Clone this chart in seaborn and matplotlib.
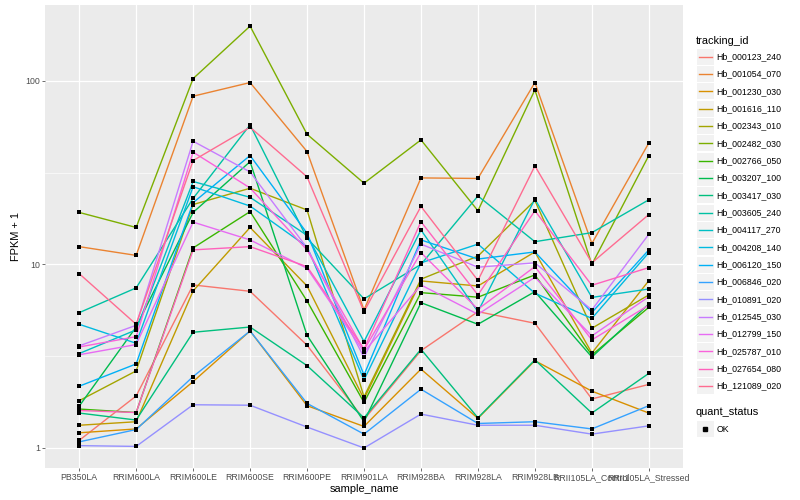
import pandas as pd
import seaborn as sns
import matplotlib.pyplot as plt
from matplotlib.lines import Line2D
from matplotlib.patches import Rectangle
from matplotlib.ticker import FixedLocator, NullFormatter

samples = ["PB350LA", "RRIM600LA", "RRIM600LE", "RRIM600SE", "RRIM600PE", "RRIM901LA",
           "RRIM928BA", "RRIM928LA", "RRIM928LB", "RRII105LA_Control", "RRII105LA_Stressed"]

tracking_ids = ["Hb_000123_240", "Hb_001054_070", "Hb_001230_030", "Hb_001616_110",
                "Hb_002343_010", "Hb_002482_030", "Hb_002766_050", "Hb_003207_100",
                "Hb_003417_030", "Hb_003605_240", "Hb_004117_270", "Hb_004208_140",
                "Hb_006120_150", "Hb_006846_020", "Hb_010891_020", "Hb_012545_030",
                "Hb_012799_150", "Hb_025787_010", "Hb_027654_080", "Hb_121089_020"]

# ggplot default hue palette for 20 levels
colors = ["#F8766D", "#EA8331", "#D89000", "#C09B00", "#A3A500", "#7CAE00", "#39B600",
          "#00BB4E", "#00BF7D", "#00C1A3", "#00BFC4", "#00BAE0", "#00B0F6", "#35A2FF",
          "#9590FF", "#C77CFF", "#E76BF3", "#FA62DB", "#FF62BC", "#FF6C91"]

# FPKM + 1, one value per sample
hb_000123_240 = [1.10, 1.92, 7.73, 7.14, 3.63, 1.43, 3.39, 5.53, 4.78, 1.85, 2.22]
hb_001054_070 = [12.5, 11.2, 82.5, 97.9, 41.2, 5.65, 29.6, 29.4, 97.9, 13.0, 45.9]
hb_001230_030 = [1.21, 1.27, 2.30, 4.34, 1.70, 1.31, 2.69, 1.45, 2.99, 2.04, 1.55]
hb_001616_110 = [1.33, 1.39, 7.17, 15.9, 7.63, 1.85, 8.13, 7.63, 11.7, 3.29, 8.16]
hb_002343_010 = [1.81, 2.63, 21.2, 26.0, 19.8, 1.90, 8.31, 11.1, 22.3, 4.49, 6.82]
hb_002482_030 = [19.2, 15.9, 102.9, 198.7, 51.2, 27.7, 47.7, 19.6, 89.3, 10.0, 39.2]
hb_002766_050 = [1.63, 1.56, 12.3, 19.4, 6.32, 1.77, 7.02, 6.63, 8.77, 3.21, 5.84]
hb_003207_100 = [1.69, 4.56, 19.2, 36.3, 4.11, 1.39, 6.19, 4.72, 7.11, 3.13, 6.09]
hb_003417_030 = [1.55, 1.42, 4.27, 4.56, 2.81, 1.46, 3.45, 1.46, 3.02, 1.55, 2.55]
hb_003605_240 = [5.46, 7.45, 22.9, 57.6, 13.9, 6.49, 10.0, 23.6, 13.3, 14.9, 22.5]
hb_004117_270 = [3.27, 4.40, 28.3, 23.2, 14.4, 3.80, 15.4, 5.53, 22.7, 6.61, 7.35]
hb_004208_140 = [4.72, 3.72, 26.5, 20.8, 12.5, 2.35, 10.2, 12.9, 6.97, 5.08, 11.6]
hb_006120_150 = [2.17, 2.87, 21.7, 39.2, 14.8, 2.50, 13.6, 10.7, 11.7, 5.47, 12.0]
hb_006846_020 = [1.08, 1.26, 2.45, 4.34, 1.75, 1.19, 2.09, 1.36, 1.39, 1.27, 1.70]
hb_010891_020 = [1.03, 1.02, 1.72, 1.71, 1.30, 1.00, 1.53, 1.33, 1.33, 1.19, 1.32]
hb_012545_030 = [3.60, 4.66, 46.9, 31.9, 12.3, 3.12, 12.9, 9.66, 10.2, 5.65, 14.6]
hb_012799_150 = [3.22, 3.66, 17.0, 13.6, 9.53, 3.34, 7.73, 5.35, 8.51, 4.08, 6.67]
hb_025787_010 = [3.55, 4.04, 40.9, 26.1, 12.0, 3.42, 11.6, 5.70, 9.73, 3.88, 6.00]
hb_027654_080 = [1.60, 1.56, 12.0, 12.5, 9.73, 3.46, 17.1, 6.82, 19.6, 7.70, 9.61]
hb_121089_020 = [8.91, 4.72, 36.8, 55.9, 30.0, 5.53, 20.7, 8.18, 34.4, 10.2, 18.7]

series = [hb_000123_240, hb_001054_070, hb_001230_030, hb_001616_110, hb_002343_010,
          hb_002482_030, hb_002766_050, hb_003207_100, hb_003417_030, hb_003605_240,
          hb_004117_270, hb_004208_140, hb_006120_150, hb_006846_020, hb_010891_020,
          hb_012545_030, hb_012799_150, hb_025787_010, hb_027654_080, hb_121089_020]

rows = []
for tid, vals in zip(tracking_ids, series):
    for s, v in zip(samples, vals):
        rows.append({"tracking_id": tid, "sample_name": s, "fpkm": v})
df = pd.DataFrame(rows)

plt.rcParams["font.family"] = ["Liberation Sans", "DejaVu Sans"]

W, H = 800, 500
fig = plt.figure(figsize=(8, 5), dpi=100)
ax = fig.add_axes([45 / W, 1 - 468 / H, (683 - 45) / W, (468 - 5) / H])
ax.set_facecolor("#EBEBEB")

sns.lineplot(data=df, x="sample_name", y="fpkm", hue="tracking_id", palette=colors,
             sort=False, estimator=None, linewidth=1.0, legend=False, ax=ax)
sns.scatterplot(data=df, x="sample_name", y="fpkm", color="black", marker="s", s=8,
                linewidth=0, legend=False, ax=ax, zorder=3)

ax.set_yscale("log")
ax.set_ylim(0.778, 259)
ax.set_xlim(-0.6, 10.6)
ax.set_yticks([1, 10, 100])
ax.set_yticklabels(["1", "10", "100"])
ax.yaxis.set_minor_locator(FixedLocator([10 ** 0.5, 10 ** 1.5]))
ax.yaxis.set_minor_formatter(NullFormatter())

ax.set_axisbelow(True)
ax.grid(True, which="major", color="white", linewidth=0.9)
ax.grid(True, which="minor", axis="y", color="white", linewidth=0.45)
for sp in ax.spines.values():
    sp.set_visible(False)
ax.tick_params(which="major", length=2.0, width=0.5, color="#333333",
               labelcolor="#4D4D4D", labelsize=6.3, pad=1.6)
ax.tick_params(which="minor", length=0)

ax.set_xlabel("sample_name", fontsize=7.9, labelpad=1.5)
ax.set_ylabel("FPKM + 1", fontsize=7.9, labelpad=3)


# legend, drawn ggplot style
def fx(px):
    return px / W


def fy(py):
    return 1 - py / H


fig.text(fx(696), fy(40.7), "tracking_id", fontsize=7.9, va="center", ha="left")
for i, (tid, c) in enumerate(zip(tracking_ids, colors)):
    cy = 56.7 + i * 17.33
    fig.patches.append(Rectangle((fx(697), fy(cy + 8.1)), 16.5 / W, 16.2 / H,
                                 transform=fig.transFigure, facecolor="#F2F2F2",
                                 edgecolor="none"))
    fig.lines.append(Line2D([fx(698.5), fx(712)], [fy(cy), fy(cy)], color=c,
                            linewidth=1.0, transform=fig.transFigure))
    fig.text(fx(716.5), fy(cy), tid, fontsize=6.3, va="center", ha="left")

fig.text(fx(696), fy(412.3), "quant_status", fontsize=7.9, va="center", ha="left")
fig.patches.append(Rectangle((fx(697), fy(429.3 + 8.1)), 16.5 / W, 16.2 / H,
                             transform=fig.transFigure, facecolor="#F2F2F2",
                             edgecolor="none"))
fig.lines.append(Line2D([fx(705.2)], [fy(429.3)], marker="s", markersize=2.8,
                        color="black", linestyle="none", transform=fig.transFigure))
fig.text(fx(716.5), fy(429.3), "OK", fontsize=6.3, va="center", ha="left")

fig.savefig("out.png", dpi=100, facecolor="white")
